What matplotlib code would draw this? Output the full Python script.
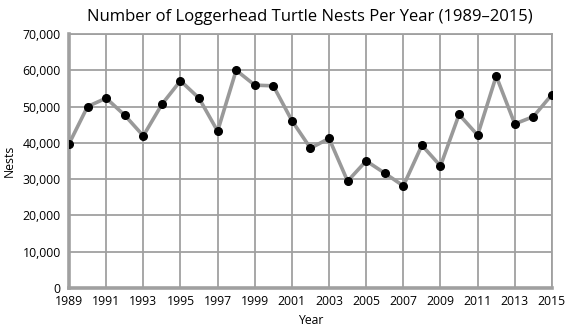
import matplotlib
matplotlib.use("Agg")
import matplotlib.pyplot as plt
from matplotlib.ticker import FuncFormatter

years = list(range(1989, 2016))
nests = [39700, 50000, 52300, 47600, 41900, 50600, 57100, 52300, 43200, 60000,
         55900, 55700, 46100, 38500, 41200, 29400, 35000, 31600, 28100, 39300,
         33600, 47800, 42100, 58400, 45200, 47200, 53300]
xticks = list(range(1989, 2016, 2))
yticks = list(range(0, 70001, 10000))

plt.rcParams['font.family'] = ['Open Sans', 'DejaVu Sans']

fig = plt.figure(figsize=(5.69, 3.35), dpi=100)
ax = fig.add_axes([0.1213, 0.141, 0.8487, 0.7575])

grid_c = '#a0a0a0'
ax.plot(years, nests, color='#999999', lw=2.6, zorder=3,
        marker='o', markersize=5.5, markerfacecolor='black', markeredgecolor='black')

ax.set_xlim(1989, 2015)
ax.set_ylim(0, 70000)
ax.set_xticks(xticks)
ax.set_yticks(yticks)
ax.yaxis.set_major_formatter(FuncFormatter(lambda v, p: f"{int(v):,}"))
ax.grid(True, color=grid_c, lw=1.3, zorder=1)
ax.tick_params(length=0, labelsize=8.8)
ax.tick_params(axis='y', pad=6)
ax.tick_params(axis='x', pad=5.5)
for s in ['top', 'right']:
    ax.spines[s].set_color(grid_c)
    ax.spines[s].set_linewidth(1.3)
for s in ['left', 'bottom']:
    ax.spines[s].set_color(grid_c)
    ax.spines[s].set_linewidth(2.6)

ax.set_xlabel('Year', fontsize=8.8, labelpad=4)
ax.set_ylabel('Nests', fontsize=8.8, labelpad=5)
fig.text(0.545, 0.95, 'Number of Loggerhead Turtle Nests Per Year (1989\u20132015)',
         ha='center', va='center', fontsize=12)

fig.savefig('out.png', dpi=100)
